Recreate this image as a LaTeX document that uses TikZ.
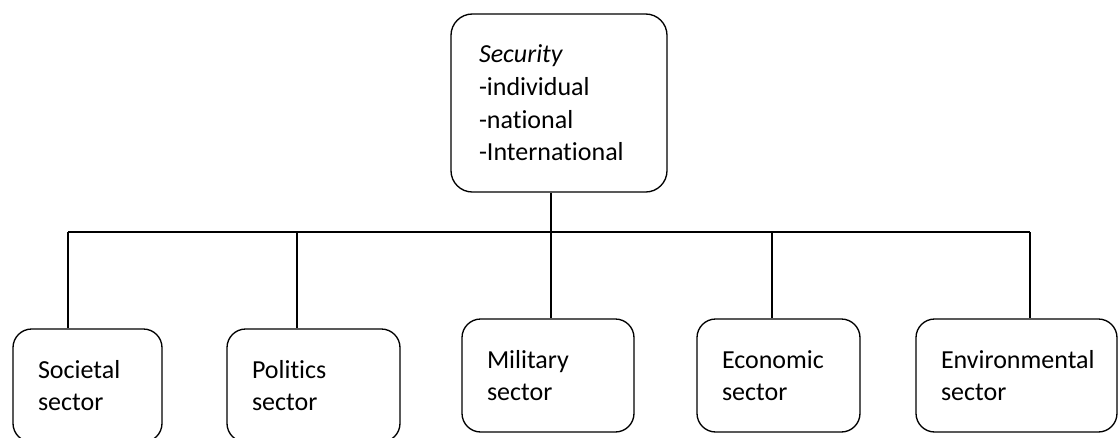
\documentclass[tikz,border=0pt]{standalone}
\usepackage{fontspec}
\setmainfont{Carlito}[RawFeature={-liga;-clig;-calt}]
\begin{document}
\begin{tikzpicture}[x=0.75pt,y=-0.75pt,
  box/.style={draw, line width=1pt, rounded corners=14pt, align=left, font=\fontsize{19.5}{24.5}\selectfont},
  sectorbox/.style={box, inner xsep=18.75pt, minimum height=84.75pt},
  link/.style={line width=1pt}]
\useasboundingbox (0,0) rectangle (1118,437);
\node[box, rounded corners=16pt, inner xsep=21pt, text width=120pt, minimum height=133.5pt] (sec) at (559,103) {\textit{Security}\\-individual\\-national\\-International};
\node[sectorbox, text width=74.25pt] (soc) at (87.5,385.5) {Societal\\sector};
\node[sectorbox, text width=92.25pt] (pol) at (313.5,385.5) {Politics\\sector};
\node[sectorbox, text width=91.5pt] (mil) at (548,375.5) {Military\\sector};
\node[sectorbox, text width=84.75pt] (eco) at (778.5,375.5) {Economic\\sector};
\node[sectorbox, text width=113.25pt] (env) at (1016.5,375.5) {Environmental\\sector};
\foreach \n/\x in {soc/68,pol/297,mil/551,eco/772,env/1030}
  {\coordinate (bus-\n) at (\x,232);
   \draw[link] (bus-\n) -- (bus-\n |- \n.north);}
\draw[link] (bus-soc) -- (bus-env);
\draw[link] (sec.south -| bus-mil) -- (bus-mil);
\end{tikzpicture}
\end{document}
